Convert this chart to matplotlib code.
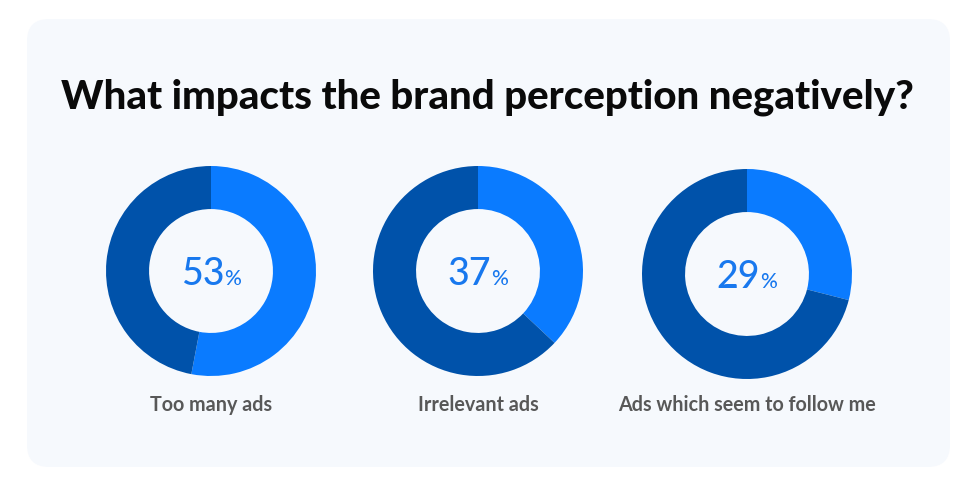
import matplotlib
matplotlib.use("Agg")
import matplotlib.pyplot as plt
from matplotlib.patches import FancyBboxPatch

W, H = 977, 489
title = "What impacts the brand perception negatively?"
categories = ["Too many ads", "Irrelevant ads", "Ads which seem to follow me"]
values = [53, 37, 29]

light = "#0A7BFF"
dark = "#0052AA"
panel_col = "#F6F9FD"
pct_col = "#1878EE"

fig = plt.figure(figsize=(W/100, H/100), dpi=100)
fig.patch.set_facecolor("white")
bg = fig.add_axes([0, 0, 1, 1])
bg.set_xlim(0, W); bg.set_ylim(H, 0); bg.axis("off")
bg.add_patch(FancyBboxPatch((27, 20), 923, 448, boxstyle="round,pad=0,rounding_size=22",
                            fc=panel_col, ec="none"))
bg.text(487, 97, title, ha="center", va="center", fontsize=29, fontweight="black",
        family="Lato", color="#0a0a0a")

fig.canvas.draw()
renderer = fig.canvas.get_renderer()

centers = [(211, 272), (478, 272), (747, 275)]
R = 105
for (cx, cy), v, lab in zip(centers, values, categories):
    ax = fig.add_axes([(cx - R)/W, 1 - (cy + R)/H, 2*R/W, 2*R/H])
    ax.pie([v, 100 - v], colors=[light, dark], startangle=90, counterclock=False,
           radius=1, wedgeprops=dict(width=0.41, edgecolor="none"))
    ax.set_xlim(-1, 1); ax.set_ylim(-1, 1)
    ax.set_aspect("auto")
    ax.axis("off")
    num = bg.text(0, cy + 13, f"{v}", ha="left", va="baseline", fontsize=27,
                  family="Lato", fontweight="medium", color=pct_col)
    pc = bg.text(0, cy + 13, "%", ha="left", va="baseline", fontsize=15,
                 family="Lato", fontweight="medium", color=pct_col)
    wn = num.get_window_extent(renderer).width
    wp = pc.get_window_extent(renderer).width
    gap = 0.5
    x0 = cx - (wn + wp + gap) / 2
    num.set_x(x0)
    pc.set_x(x0 + wn + gap)
    bg.text(cx, 405, lab, ha="center", va="center", fontsize=14.2, fontweight="bold",
            family="Lato", color="#585858")

fig.savefig("out.png", dpi=100, facecolor="white")
